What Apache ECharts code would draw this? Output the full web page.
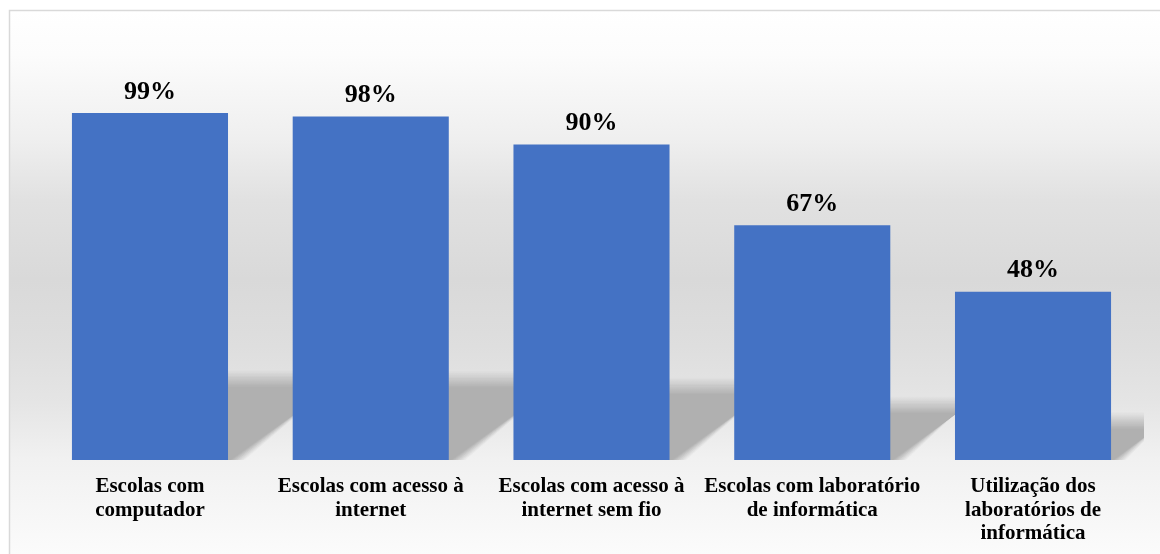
<!DOCTYPE html>
<html>
<head>
<meta charset="utf-8">
<style>
  html, body { margin: 0; padding: 0; background: #ffffff; }
  #chart { width: 1160px; height: 554px; }
</style>
<script src="https://cdn.jsdelivr.net/npm/echarts@6/dist/echarts.min.js"></script>
</head>
<body>
<div id="chart"></div>
<script>
// Categories (line breaks as they wrap under each bar)
const categories = [
  'Escolas com\ncomputador',
  'Escolas com acesso à\ninternet',
  'Escolas com acesso à\ninternet sem fio',
  'Escolas com laboratório\nde informática',
  'Utilização dos\nlaboratórios de\ninformática'
];
// Percentages
const values = [99, 98, 90, 67, 48];

const BAR_RATIO = 0.707;      // bar width as a share of its category band
const SHADOW_HEIGHT = 0.235;  // floor shadow height relative to bar height
const SHADOW_SLANT = 1.42;    // horizontal shift per pixel of shadow height
const SOFT_EDGE = 8;          // half-width of the shadow's soft edge, px
const SOFT_LAYERS = 14;       // translucent layers used to build the soft edge
const FONT = '"Liberation Serif", "Times New Roman", serif';

const chart = echarts.init(document.getElementById('chart'), null, { renderer: 'canvas' });

chart.setOption({
  animation: false,
  graphic: {
    elements: [{
      type: 'rect',
      silent: true,
      z: -10,
      shape: { x: 9.5, y: 10.5, width: 1170, height: 560 },
      style: {
        stroke: '#d9d9d9',
        lineWidth: 1.5,
        fill: {
          type: 'linear', x: 0, y: 0, x2: 0, y2: 1,
          colorStops: [
            { offset: 0.0, color: '#ffffff' },
            { offset: 0.08, color: '#fcfcfc' },
            { offset: 0.23, color: '#efefef' },
            { offset: 0.34, color: '#e1e1e1' },
            { offset: 0.48, color: '#d9d9d9' },
            { offset: 0.60, color: '#dedede' },
            { offset: 0.70, color: '#e5e5e5' },
            { offset: 0.80, color: '#f1f1f1' },
            { offset: 0.97, color: '#fbfbfb' },
            { offset: 1.0, color: '#fcfcfc' }
          ]
        }
      }
    }]
  },
  grid: { left: 39.6, right: 16.6, top: 109.5, bottom: 94, containLabel: false },
  xAxis: {
    type: 'category',
    data: categories,
    axisLine: { show: false },
    axisTick: { show: false },
    splitLine: { show: false },
    axisLabel: {
      interval: 0,
      margin: 15,
      color: '#000000',
      fontFamily: FONT,
      fontWeight: 'bold',
      fontSize: 21,
      lineHeight: 23.5,
      align: 'center'
    }
  },
  yAxis: {
    type: 'value',
    min: 0,
    max: 100,
    show: false,
    splitLine: { show: false }
  },
  series: [
    {
      // perspective floor shadows cast behind the bars; the soft edge is a
      // stack of nested translucent parallelograms giving a linear fade
      type: 'custom',
      z: 1,
      clip: true,
      silent: true,
      data: values.map((v, i) => [i, v]),
      encode: { x: 0, y: 1 },
      renderItem: function (params, api) {
        const idx = api.value(0);
        const v = api.value(1);
        const top = api.coord([idx, v]);
        const base = api.coord([idx, 0]);
        const band = api.size([1, 0])[0];
        const w = band * BAR_RATIO;
        const xl = top[0] - w / 2 + 14;
        const xr = top[0] + w / 2 - 3;
        const hs = (base[1] - top[1]) * SHADOW_HEIGHT;
        const dx = hs * SHADOW_SLANT;
        const children = [];
        for (let j = 0; j < SOFT_LAYERS; j++) {
          const e = -SOFT_EDGE + (2 * SOFT_EDGE * j) / (SOFT_LAYERS - 1);
          children.push({
            type: 'polygon',
            shape: {
              points: [
                [xl, base[1] + 10],
                [xr + e, base[1] + 10],
                [xr + dx + e, base[1] - hs - e],
                [xl + dx, base[1] - hs - e]
              ]
            },
            style: { fill: '#b3b3b3', opacity: 1 / (j + 1) }
          });
        }
        return { type: 'group', children: children };
      }
    },
    {
      type: 'bar',
      z: 2,
      data: values,
      barWidth: (BAR_RATIO * 100) + '%',
      itemStyle: { color: '#4472C4' },
      label: {
        show: true,
        position: 'top',
        distance: 8,
        formatter: '{c}%',
        color: '#000000',
        fontFamily: FONT,
        fontWeight: 'bold',
        fontSize: 26
      }
    }
  ]
});
</script>
</body>
</html>
